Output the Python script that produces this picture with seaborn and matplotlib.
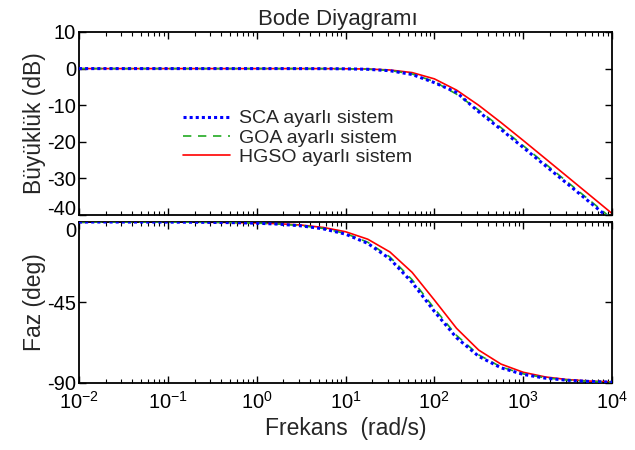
import numpy as np
import pandas as pd
import matplotlib
matplotlib.use("Agg")
import matplotlib.pyplot as plt
import seaborn as sns
from matplotlib.ticker import LogLocator, NullFormatter, FixedLocator

# Frequencies (rad/s), read at quarter-decade steps
freq = [0.01, 0.0178, 0.0316, 0.0562, 0.1, 0.178, 0.316, 0.562, 1.0, 1.78, 3.16, 5.62,
        10.0, 17.8, 31.6, 56.2, 100.0, 178.0, 316.0, 562.0, 1000.0, 1778.0, 3162.0, 5623.0, 10000.0]

sca_mag = [0, 0, 0, 0, 0, 0, 0, 0, 0, 0, -0.01, -0.02,
           -0.06, -0.19, -0.58, -1.61, -3.83, -6.52, -11.81, -16.61, -21.54, -26.53, -31.52, -36.52, -41.52]
goa_mag = [0, 0, 0, 0, 0, 0, 0, 0, 0, 0, -0.01, -0.02,
           -0.06, -0.17, -0.52, -1.46, -3.55, -6.99, -11.34, -16.12, -21.05, -26.02, -31.02, -36.01, -41.01]
hgso_mag = [0, 0, 0, 0, 0, 0, 0, 0, 0, 0, 0, -0.01,
            -0.04, -0.12, -0.38, -1.09, -2.80, -5.88, -10.03, -14.72, -19.62, -24.59, -29.58, -34.58, -39.58]

sca_phase = [-0.01, -0.01, -0.02, -0.04, -0.07, -0.12, -0.22, -0.38, -0.68, -1.21, -2.16, -3.83,
             -6.79, -11.96, -20.62, -33.79, -49.97, -64.74, -75.11, -81.50, -85.20, -87.30, -88.48, -89.14, -89.52]
goa_phase = [-0.01, -0.01, -0.02, -0.04, -0.06, -0.11, -0.20, -0.36, -0.64, -1.15, -2.03, -3.61,
             -6.41, -11.31, -19.55, -32.27, -48.33, -63.43, -74.27, -81.00, -84.91, -87.13, -88.39, -89.09, -89.49]
hgso_phase = [-0.01, -0.01, -0.02, -0.03, -0.05, -0.10, -0.17, -0.31, -0.55, -0.97, -1.72, -3.06,
              -5.44, -9.62, -16.75, -28.16, -43.60, -59.46, -71.62, -79.42, -84.00, -86.62, -88.10, -88.93, -89.40]

labels = ["SCA ayarlı sistem", "GOA ayarlı sistem", "HGSO ayarlı sistem"]
xtick_vals = [1e-2, 1e-1, 1e0, 1e1, 1e2, 1e3, 1e4]
xtick_labels = [r"$10^{-2}$", r"$10^{-1}$", r"$10^{0}$", r"$10^{1}$", r"$10^{2}$", r"$10^{3}$", r"$10^{4}$"]

sns.set_theme(style="ticks")
plt.rcParams["font.family"] = ["Liberation Sans", "DejaVu Sans"]
plt.rcParams["mathtext.fontset"] = "custom"
plt.rcParams["mathtext.rm"] = "Liberation Sans"
plt.rcParams["mathtext.it"] = "Liberation Sans:italic"
plt.rcParams["mathtext.default"] = "regular"
plt.rcParams["axes.unicode_minus"] = False
plt.rcParams["axes.edgecolor"] = "black"
plt.rcParams["axes.linewidth"] = 1.3

frames = []
for lab, m, p in zip(labels, [sca_mag, goa_mag, hgso_mag], [sca_phase, goa_phase, hgso_phase]):
    frames.append(pd.DataFrame({"freq": freq, "mag": m, "phase": p, "system": lab}))
df = pd.concat(frames, ignore_index=True)

styles = {
    labels[0]: dict(color="#0000ff", linestyle=(0, (1, 1)), linewidth=2.2, zorder=4),
    labels[1]: dict(color="#22aa22", linestyle=(0, (5, 4)), linewidth=1.2, zorder=3),
    labels[2]: dict(color="#ff0000", linestyle="-", linewidth=1.2, zorder=2),
}

fig = plt.figure(figsize=(6.35, 4.5), dpi=100)
ax1 = fig.add_axes([0.1244, 0.5222, 0.8394, 0.4067])
ax2 = fig.add_axes([0.1244, 0.1489, 0.8394, 0.3578])

for lab in labels:
    sub = df[df["system"] == lab]
    sns.lineplot(data=sub, x="freq", y="mag", ax=ax1, label=lab, **styles[lab])
    sns.lineplot(data=sub, x="freq", y="phase", ax=ax2, label=lab, **styles[lab])

for ax in (ax1, ax2):
    ax.set_xscale("log")
    ax.set_xlim(1e-2, 1e4)
    ax.set_xticks(xtick_vals)
    ax.set_xticklabels(xtick_labels)
    ax.xaxis.set_minor_locator(LogLocator(base=10, subs=np.arange(2, 10), numticks=100))
    ax.xaxis.set_minor_formatter(NullFormatter())
    ax.tick_params(which="both", direction="in", top=True, right=True, labelsize=14.5,
                   colors="black", pad=2)
    ax.tick_params(which="major", length=5, width=1)
    ax.tick_params(which="minor", length=3, width=0.8)
    ax.set_xlabel("")
    for s in ax.spines.values():
        s.set_visible(True)
        s.set_color("black")

ax1.set_ylim(-40, 10)
ax1.set_yticks([-40, -30, -20, -10, 0, 10])
ax1.tick_params(axis="x", labelbottom=False)
ax1.set_ylabel("Büyüklük (dB)", fontsize=16.5, labelpad=1)
ax1.set_title("Bode Diyagramı", fontsize=16, pad=5, x=0.485)
ax1.legend(loc="upper left", bbox_to_anchor=(0.195, 0.575), frameon=False, fontsize=14,
           handlelength=2.4, handletextpad=0.5, labelspacing=0.08, borderaxespad=0,
           borderpad=0)

ax2.set_ylim(-90, 0)
ax2.set_yticks([-90, -45, 0])
ax2.tick_params(axis="x", pad=6)
ax2.set_ylabel("Faz (deg)", fontsize=16.5, labelpad=1)
ax2.set_xlabel("Frekans  (rad/s)", fontsize=16.5, labelpad=3)
leg = ax2.get_legend()
if leg is not None:
    leg.remove()

# keep the top phase label inside the axes like the reference
fig.canvas.draw()
ax2.get_yticklabels()[-1].set_verticalalignment("top")
ax1.get_yticklabels()[0].set_verticalalignment("baseline")

fig.savefig("out.png", dpi=100)
